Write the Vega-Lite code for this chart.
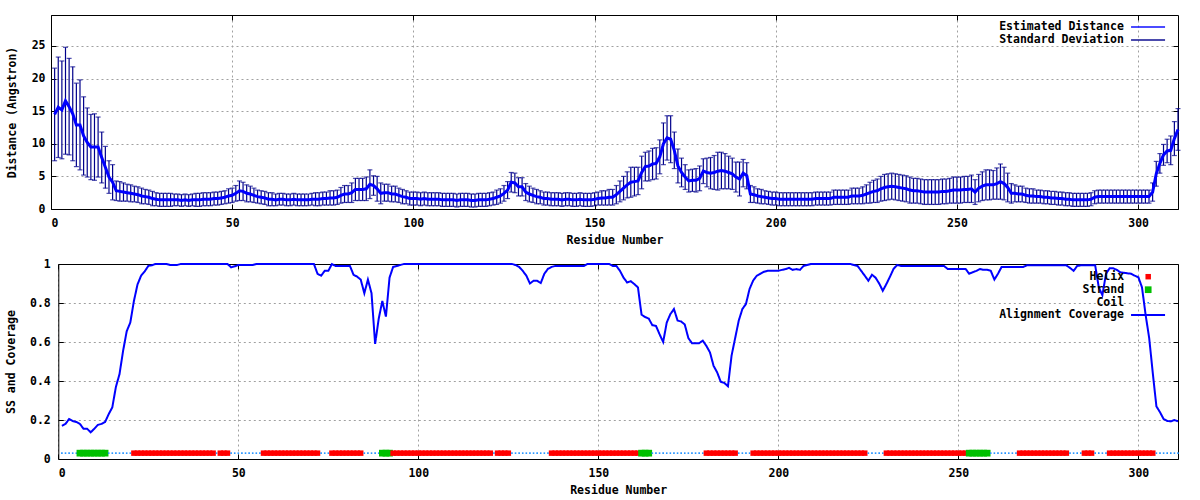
{
"$schema":"https://vega.github.io/schema/vega-lite/v6.json",
"background":"#ffffff",
"padding":{"left":5,"top":14,"right":0,"bottom":0},
"config":{
 "view":{"stroke":null},
 "axis":{"labelFont":"DejaVu Sans Mono","labelFontWeight":"bold","labelFontSize":11.5,"labelColor":"#000000","titleFont":"DejaVu Sans Mono","titleFontWeight":"bold","titleFontSize":11.5,"titleColor":"#000000","domain":true,"domainColor":"#000000","domainWidth":1,"gridColor":"#a0a0a0","gridDash":[2,3],"gridWidth":1,"gridOpacity":1,"tickColor":"#000000","tickWidth":1,"tickSize":-5},
 "legend":{"labelFont":"DejaVu Sans Mono","labelFontWeight":"bold","labelFontSize":11.5,"labelColor":"#000000","labelLimit":400}
},
"datasets":{"res":[
{"r":1,"d":14.5,"sd":7.1,"c":0.17,"s":"Coil"},
{"r":2,"d":15.6,"sd":7.7,"c":0.18,"s":"Coil"},
{"r":3,"d":15.2,"sd":7.5,"c":0.205,"s":"Coil"},
{"r":4,"d":16.6,"sd":8.2,"c":0.195,"s":"Coil"},
{"r":5,"d":15.7,"sd":7.4,"c":0.19,"s":"Coil"},
{"r":6,"d":14.6,"sd":7.2,"c":0.18,"s":"Strand"},
{"r":7,"d":12.9,"sd":6.4,"c":0.155,"s":"Strand"},
{"r":8,"d":12.9,"sd":6.9,"c":0.155,"s":"Strand"},
{"r":9,"d":11.2,"sd":6.0,"c":0.137,"s":"Strand"},
{"r":10,"d":10.2,"sd":5.3,"c":0.155,"s":"Strand"},
{"r":11,"d":9.5,"sd":5.0,"c":0.175,"s":"Strand"},
{"r":12,"d":9.5,"sd":5.1,"c":0.18,"s":"Strand"},
{"r":13,"d":9.5,"sd":4.6,"c":0.19,"s":"Strand"},
{"r":14,"d":7.9,"sd":3.9,"c":0.23,"s":"Coil"},
{"r":15,"d":6.4,"sd":3.2,"c":0.265,"s":"Coil"},
{"r":16,"d":4.9,"sd":2.5,"c":0.37,"s":"Coil"},
{"r":17,"d":4.1,"sd":2.7,"c":0.435,"s":"Coil"},
{"r":18,"d":2.8,"sd":1.5,"c":0.555,"s":"Coil"},
{"r":19,"d":2.7,"sd":1.5,"c":0.655,"s":"Coil"},
{"r":20,"d":2.6,"sd":1.4,"c":0.7,"s":"Coil"},
{"r":21,"d":2.5,"sd":1.3,"c":0.81,"s":"Helix"},
{"r":22,"d":2.4,"sd":1.3,"c":0.895,"s":"Helix"},
{"r":23,"d":2.3,"sd":1.2,"c":0.94,"s":"Helix"},
{"r":24,"d":2.2,"sd":1.2,"c":0.962,"s":"Helix"},
{"r":25,"d":2.0,"sd":1.2,"c":0.99,"s":"Helix"},
{"r":26,"d":1.9,"sd":1.1,"c":0.994,"s":"Helix"},
{"r":27,"d":1.8,"sd":1.1,"c":1.0,"s":"Helix"},
{"r":28,"d":1.6,"sd":1.1,"c":1.0,"s":"Helix"},
{"r":29,"d":1.5,"sd":1.0,"c":1.0,"s":"Helix"},
{"r":30,"d":1.4,"sd":1.0,"c":1.0,"s":"Helix"},
{"r":31,"d":1.4,"sd":1.0,"c":0.995,"s":"Helix"},
{"r":32,"d":1.4,"sd":1.0,"c":0.995,"s":"Helix"},
{"r":33,"d":1.4,"sd":1.0,"c":0.995,"s":"Helix"},
{"r":34,"d":1.4,"sd":0.9,"c":1.0,"s":"Helix"},
{"r":35,"d":1.4,"sd":0.9,"c":1.0,"s":"Helix"},
{"r":36,"d":1.3,"sd":0.9,"c":1.0,"s":"Helix"},
{"r":37,"d":1.4,"sd":0.9,"c":1.0,"s":"Helix"},
{"r":38,"d":1.3,"sd":0.9,"c":1.0,"s":"Helix"},
{"r":39,"d":1.4,"sd":0.9,"c":1.0,"s":"Helix"},
{"r":40,"d":1.4,"sd":1.0,"c":1.0,"s":"Helix"},
{"r":41,"d":1.4,"sd":1.0,"c":1.0,"s":"Helix"},
{"r":42,"d":1.5,"sd":1.0,"c":1.0,"s":"Helix"},
{"r":43,"d":1.5,"sd":1.0,"c":1.0,"s":"Helix"},
{"r":44,"d":1.5,"sd":1.0,"c":1.0,"s":"Coil"},
{"r":45,"d":1.6,"sd":1.0,"c":1.0,"s":"Helix"},
{"r":46,"d":1.6,"sd":1.0,"c":1.0,"s":"Helix"},
{"r":47,"d":1.7,"sd":1.0,"c":1.0,"s":"Helix"},
{"r":48,"d":1.8,"sd":1.0,"c":0.983,"s":"Coil"},
{"r":49,"d":2.0,"sd":1.1,"c":0.988,"s":"Coil"},
{"r":50,"d":2.1,"sd":1.1,"c":0.995,"s":"Coil"},
{"r":51,"d":2.4,"sd":1.2,"c":0.995,"s":"Coil"},
{"r":52,"d":2.8,"sd":1.5,"c":0.995,"s":"Coil"},
{"r":53,"d":2.7,"sd":1.4,"c":0.995,"s":"Coil"},
{"r":54,"d":2.4,"sd":1.3,"c":0.995,"s":"Coil"},
{"r":55,"d":2.3,"sd":1.2,"c":1.0,"s":"Coil"},
{"r":56,"d":2.1,"sd":1.1,"c":1.0,"s":"Coil"},
{"r":57,"d":1.9,"sd":1.0,"c":1.0,"s":"Helix"},
{"r":58,"d":1.8,"sd":1.0,"c":1.0,"s":"Helix"},
{"r":59,"d":1.7,"sd":1.0,"c":1.0,"s":"Helix"},
{"r":60,"d":1.5,"sd":1.0,"c":1.0,"s":"Helix"},
{"r":61,"d":1.5,"sd":1.0,"c":1.0,"s":"Helix"},
{"r":62,"d":1.4,"sd":0.9,"c":1.0,"s":"Helix"},
{"r":63,"d":1.5,"sd":0.9,"c":1.0,"s":"Helix"},
{"r":64,"d":1.5,"sd":0.9,"c":1.0,"s":"Helix"},
{"r":65,"d":1.4,"sd":0.9,"c":1.0,"s":"Helix"},
{"r":66,"d":1.4,"sd":0.9,"c":1.0,"s":"Helix"},
{"r":67,"d":1.5,"sd":0.9,"c":1.0,"s":"Helix"},
{"r":68,"d":1.4,"sd":0.9,"c":1.0,"s":"Helix"},
{"r":69,"d":1.4,"sd":0.9,"c":1.0,"s":"Helix"},
{"r":70,"d":1.4,"sd":0.9,"c":1.0,"s":"Helix"},
{"r":71,"d":1.4,"sd":0.9,"c":1.0,"s":"Helix"},
{"r":72,"d":1.5,"sd":0.9,"c":0.95,"s":"Helix"},
{"r":73,"d":1.5,"sd":1.0,"c":0.94,"s":"Coil"},
{"r":74,"d":1.5,"sd":1.0,"c":0.965,"s":"Coil"},
{"r":75,"d":1.6,"sd":1.0,"c":0.965,"s":"Coil"},
{"r":76,"d":1.6,"sd":1.0,"c":1.0,"s":"Helix"},
{"r":77,"d":1.7,"sd":1.1,"c":0.99,"s":"Helix"},
{"r":78,"d":1.7,"sd":1.1,"c":0.99,"s":"Helix"},
{"r":79,"d":1.8,"sd":1.1,"c":0.99,"s":"Helix"},
{"r":80,"d":2.1,"sd":1.2,"c":0.99,"s":"Helix"},
{"r":81,"d":2.3,"sd":1.3,"c":0.99,"s":"Helix"},
{"r":82,"d":2.3,"sd":1.3,"c":0.945,"s":"Helix"},
{"r":83,"d":2.5,"sd":1.5,"c":0.935,"s":"Helix"},
{"r":84,"d":3.0,"sd":1.7,"c":0.92,"s":"Helix"},
{"r":85,"d":3.0,"sd":1.7,"c":0.85,"s":"Coil"},
{"r":86,"d":3.0,"sd":1.7,"c":0.92,"s":"Coil"},
{"r":87,"d":3.1,"sd":1.8,"c":0.85,"s":"Coil"},
{"r":88,"d":3.8,"sd":2.2,"c":0.59,"s":"Coil"},
{"r":89,"d":3.6,"sd":1.5,"c":0.72,"s":"Coil"},
{"r":90,"d":3.1,"sd":1.9,"c":0.81,"s":"Strand"},
{"r":91,"d":2.4,"sd":1.6,"c":0.73,"s":"Strand"},
{"r":92,"d":2.5,"sd":1.3,"c":0.93,"s":"Strand"},
{"r":93,"d":2.5,"sd":1.3,"c":0.985,"s":"Helix"},
{"r":94,"d":2.3,"sd":1.2,"c":0.99,"s":"Helix"},
{"r":95,"d":2.3,"sd":1.2,"c":0.995,"s":"Helix"},
{"r":96,"d":2.1,"sd":1.1,"c":1.0,"s":"Helix"},
{"r":97,"d":1.9,"sd":1.1,"c":1.0,"s":"Helix"},
{"r":98,"d":1.8,"sd":1.0,"c":1.0,"s":"Helix"},
{"r":99,"d":1.6,"sd":1.0,"c":1.0,"s":"Helix"},
{"r":100,"d":1.6,"sd":1.0,"c":1.0,"s":"Helix"},
{"r":101,"d":1.6,"sd":1.0,"c":1.0,"s":"Helix"},
{"r":102,"d":1.5,"sd":1.0,"c":1.0,"s":"Helix"},
{"r":103,"d":1.6,"sd":1.0,"c":1.0,"s":"Helix"},
{"r":104,"d":1.5,"sd":1.0,"c":1.0,"s":"Helix"},
{"r":105,"d":1.5,"sd":1.0,"c":1.0,"s":"Helix"},
{"r":106,"d":1.5,"sd":1.0,"c":1.0,"s":"Helix"},
{"r":107,"d":1.5,"sd":1.0,"c":1.0,"s":"Helix"},
{"r":108,"d":1.4,"sd":1.0,"c":1.0,"s":"Helix"},
{"r":109,"d":1.4,"sd":1.0,"c":1.0,"s":"Helix"},
{"r":110,"d":1.4,"sd":1.0,"c":1.0,"s":"Helix"},
{"r":111,"d":1.4,"sd":1.0,"c":1.0,"s":"Helix"},
{"r":112,"d":1.3,"sd":1.0,"c":1.0,"s":"Helix"},
{"r":113,"d":1.4,"sd":1.0,"c":1.0,"s":"Helix"},
{"r":114,"d":1.4,"sd":1.0,"c":1.0,"s":"Helix"},
{"r":115,"d":1.4,"sd":1.0,"c":1.0,"s":"Helix"},
{"r":116,"d":1.3,"sd":1.0,"c":1.0,"s":"Helix"},
{"r":117,"d":1.3,"sd":1.0,"c":1.0,"s":"Helix"},
{"r":118,"d":1.4,"sd":1.0,"c":1.0,"s":"Helix"},
{"r":119,"d":1.4,"sd":1.0,"c":1.0,"s":"Helix"},
{"r":120,"d":1.4,"sd":1.0,"c":1.0,"s":"Helix"},
{"r":121,"d":1.5,"sd":1.0,"c":1.0,"s":"Coil"},
{"r":122,"d":1.6,"sd":1.0,"c":1.0,"s":"Helix"},
{"r":123,"d":1.8,"sd":1.1,"c":1.0,"s":"Helix"},
{"r":124,"d":2.0,"sd":1.1,"c":1.0,"s":"Helix"},
{"r":125,"d":2.4,"sd":1.2,"c":1.0,"s":"Helix"},
{"r":126,"d":2.9,"sd":1.3,"c":1.0,"s":"Coil"},
{"r":127,"d":4.1,"sd":1.5,"c":0.995,"s":"Coil"},
{"r":128,"d":4.0,"sd":1.5,"c":0.985,"s":"Coil"},
{"r":129,"d":3.4,"sd":1.4,"c":0.965,"s":"Coil"},
{"r":130,"d":3.4,"sd":1.4,"c":0.94,"s":"Coil"},
{"r":131,"d":2.6,"sd":1.3,"c":0.9,"s":"Coil"},
{"r":132,"d":2.3,"sd":1.2,"c":0.914,"s":"Coil"},
{"r":133,"d":2.1,"sd":1.1,"c":0.914,"s":"Coil"},
{"r":134,"d":1.9,"sd":1.1,"c":0.902,"s":"Coil"},
{"r":135,"d":1.8,"sd":1.0,"c":0.95,"s":"Coil"},
{"r":136,"d":1.6,"sd":1.0,"c":0.975,"s":"Coil"},
{"r":137,"d":1.6,"sd":1.0,"c":0.985,"s":"Helix"},
{"r":138,"d":1.5,"sd":1.0,"c":0.99,"s":"Helix"},
{"r":139,"d":1.5,"sd":1.0,"c":0.99,"s":"Helix"},
{"r":140,"d":1.5,"sd":1.0,"c":0.99,"s":"Helix"},
{"r":141,"d":1.4,"sd":1.0,"c":0.99,"s":"Helix"},
{"r":142,"d":1.5,"sd":1.0,"c":0.99,"s":"Helix"},
{"r":143,"d":1.5,"sd":1.0,"c":0.99,"s":"Helix"},
{"r":144,"d":1.4,"sd":1.0,"c":0.99,"s":"Helix"},
{"r":145,"d":1.4,"sd":1.0,"c":0.99,"s":"Helix"},
{"r":146,"d":1.5,"sd":1.0,"c":0.99,"s":"Helix"},
{"r":147,"d":1.4,"sd":1.0,"c":1.0,"s":"Helix"},
{"r":148,"d":1.4,"sd":1.0,"c":1.0,"s":"Helix"},
{"r":149,"d":1.4,"sd":1.0,"c":1.0,"s":"Helix"},
{"r":150,"d":1.5,"sd":1.0,"c":1.0,"s":"Helix"},
{"r":151,"d":1.6,"sd":1.0,"c":1.0,"s":"Helix"},
{"r":152,"d":1.7,"sd":1.1,"c":1.0,"s":"Helix"},
{"r":153,"d":1.7,"sd":1.1,"c":1.0,"s":"Helix"},
{"r":154,"d":1.8,"sd":1.2,"c":0.99,"s":"Helix"},
{"r":155,"d":1.8,"sd":1.2,"c":0.99,"s":"Helix"},
{"r":156,"d":2.2,"sd":1.4,"c":0.965,"s":"Helix"},
{"r":157,"d":2.7,"sd":1.6,"c":0.93,"s":"Helix"},
{"r":158,"d":3.2,"sd":1.8,"c":0.905,"s":"Helix"},
{"r":159,"d":3.7,"sd":2.0,"c":0.912,"s":"Helix"},
{"r":160,"d":4.1,"sd":2.3,"c":0.897,"s":"Helix"},
{"r":161,"d":4.2,"sd":2.2,"c":0.88,"s":"Helix"},
{"r":162,"d":4.3,"sd":2.1,"c":0.74,"s":"Strand"},
{"r":163,"d":5.6,"sd":2.5,"c":0.728,"s":"Strand"},
{"r":164,"d":6.5,"sd":2.2,"c":0.72,"s":"Strand"},
{"r":165,"d":6.6,"sd":2.3,"c":0.686,"s":"Coil"},
{"r":166,"d":6.9,"sd":2.4,"c":0.683,"s":"Coil"},
{"r":167,"d":7.0,"sd":2.4,"c":0.64,"s":"Coil"},
{"r":168,"d":8.0,"sd":2.6,"c":0.6,"s":"Coil"},
{"r":169,"d":10.0,"sd":3.2,"c":0.7,"s":"Coil"},
{"r":170,"d":10.9,"sd":3.4,"c":0.743,"s":"Coil"},
{"r":171,"d":10.7,"sd":3.6,"c":0.769,"s":"Coil"},
{"r":172,"d":9.0,"sd":2.8,"c":0.71,"s":"Coil"},
{"r":173,"d":6.6,"sd":2.6,"c":0.705,"s":"Coil"},
{"r":174,"d":5.6,"sd":2.2,"c":0.69,"s":"Coil"},
{"r":175,"d":4.9,"sd":1.9,"c":0.62,"s":"Coil"},
{"r":176,"d":4.3,"sd":1.7,"c":0.594,"s":"Coil"},
{"r":177,"d":4.4,"sd":1.7,"c":0.594,"s":"Coil"},
{"r":178,"d":4.4,"sd":1.8,"c":0.594,"s":"Coil"},
{"r":179,"d":4.7,"sd":1.9,"c":0.607,"s":"Coil"},
{"r":180,"d":5.8,"sd":1.9,"c":0.58,"s":"Helix"},
{"r":181,"d":5.6,"sd":2.2,"c":0.547,"s":"Helix"},
{"r":182,"d":5.5,"sd":2.4,"c":0.478,"s":"Helix"},
{"r":183,"d":5.6,"sd":2.6,"c":0.444,"s":"Helix"},
{"r":184,"d":5.8,"sd":2.9,"c":0.396,"s":"Helix"},
{"r":185,"d":5.9,"sd":2.8,"c":0.39,"s":"Helix"},
{"r":186,"d":5.8,"sd":2.7,"c":0.373,"s":"Helix"},
{"r":187,"d":5.6,"sd":2.5,"c":0.53,"s":"Helix"},
{"r":188,"d":5.4,"sd":2.4,"c":0.62,"s":"Helix"},
{"r":189,"d":4.9,"sd":2.3,"c":0.71,"s":"Coil"},
{"r":190,"d":4.6,"sd":2.6,"c":0.769,"s":"Coil"},
{"r":191,"d":5.5,"sd":2.1,"c":0.795,"s":"Coil"},
{"r":192,"d":5.1,"sd":2.0,"c":0.872,"s":"Coil"},
{"r":193,"d":2.3,"sd":1.3,"c":0.915,"s":"Helix"},
{"r":194,"d":2.2,"sd":1.2,"c":0.94,"s":"Helix"},
{"r":195,"d":2.0,"sd":1.1,"c":0.95,"s":"Helix"},
{"r":196,"d":1.9,"sd":1.1,"c":0.96,"s":"Helix"},
{"r":197,"d":1.8,"sd":1.0,"c":0.965,"s":"Helix"},
{"r":198,"d":1.7,"sd":1.0,"c":0.965,"s":"Helix"},
{"r":199,"d":1.6,"sd":1.0,"c":0.965,"s":"Helix"},
{"r":200,"d":1.6,"sd":1.0,"c":0.965,"s":"Helix"},
{"r":201,"d":1.5,"sd":1.0,"c":0.97,"s":"Helix"},
{"r":202,"d":1.5,"sd":1.0,"c":0.974,"s":"Helix"},
{"r":203,"d":1.5,"sd":1.0,"c":0.98,"s":"Helix"},
{"r":204,"d":1.5,"sd":1.0,"c":0.97,"s":"Helix"},
{"r":205,"d":1.5,"sd":1.0,"c":0.974,"s":"Helix"},
{"r":206,"d":1.5,"sd":1.0,"c":0.97,"s":"Helix"},
{"r":207,"d":1.5,"sd":1.0,"c":0.99,"s":"Helix"},
{"r":208,"d":1.5,"sd":1.0,"c":0.995,"s":"Helix"},
{"r":209,"d":1.5,"sd":1.0,"c":1.0,"s":"Helix"},
{"r":210,"d":1.5,"sd":1.0,"c":1.0,"s":"Helix"},
{"r":211,"d":1.6,"sd":1.0,"c":1.0,"s":"Helix"},
{"r":212,"d":1.6,"sd":1.0,"c":1.0,"s":"Helix"},
{"r":213,"d":1.6,"sd":1.0,"c":1.0,"s":"Helix"},
{"r":214,"d":1.6,"sd":1.0,"c":1.0,"s":"Helix"},
{"r":215,"d":1.6,"sd":1.0,"c":1.0,"s":"Helix"},
{"r":216,"d":1.8,"sd":1.1,"c":1.0,"s":"Helix"},
{"r":217,"d":1.8,"sd":1.1,"c":1.0,"s":"Helix"},
{"r":218,"d":1.8,"sd":1.1,"c":1.0,"s":"Helix"},
{"r":219,"d":1.8,"sd":1.1,"c":1.0,"s":"Helix"},
{"r":220,"d":1.8,"sd":1.1,"c":1.0,"s":"Helix"},
{"r":221,"d":2.0,"sd":1.2,"c":0.995,"s":"Helix"},
{"r":222,"d":2.0,"sd":1.2,"c":0.99,"s":"Helix"},
{"r":223,"d":2.0,"sd":1.2,"c":0.965,"s":"Helix"},
{"r":224,"d":2.1,"sd":1.3,"c":0.94,"s":"Helix"},
{"r":225,"d":2.3,"sd":1.4,"c":0.914,"s":"Coil"},
{"r":226,"d":2.5,"sd":1.6,"c":0.945,"s":"Coil"},
{"r":227,"d":2.7,"sd":1.7,"c":0.93,"s":"Coil"},
{"r":228,"d":2.8,"sd":1.8,"c":0.9,"s":"Coil"},
{"r":229,"d":3.1,"sd":1.9,"c":0.863,"s":"Coil"},
{"r":230,"d":3.3,"sd":2.0,"c":0.897,"s":"Helix"},
{"r":231,"d":3.4,"sd":2.0,"c":0.935,"s":"Helix"},
{"r":232,"d":3.5,"sd":2.0,"c":0.975,"s":"Helix"},
{"r":233,"d":3.4,"sd":2.0,"c":0.995,"s":"Helix"},
{"r":234,"d":3.3,"sd":2.0,"c":0.99,"s":"Helix"},
{"r":235,"d":3.2,"sd":2.0,"c":0.99,"s":"Helix"},
{"r":236,"d":3.1,"sd":2.0,"c":0.99,"s":"Helix"},
{"r":237,"d":2.9,"sd":2.0,"c":0.99,"s":"Helix"},
{"r":238,"d":2.8,"sd":1.9,"c":0.99,"s":"Helix"},
{"r":239,"d":2.8,"sd":1.9,"c":0.99,"s":"Helix"},
{"r":240,"d":2.7,"sd":1.9,"c":0.99,"s":"Helix"},
{"r":241,"d":2.6,"sd":1.9,"c":0.99,"s":"Helix"},
{"r":242,"d":2.6,"sd":1.9,"c":0.99,"s":"Helix"},
{"r":243,"d":2.6,"sd":1.9,"c":0.99,"s":"Helix"},
{"r":244,"d":2.6,"sd":1.9,"c":0.99,"s":"Helix"},
{"r":245,"d":2.6,"sd":1.9,"c":0.99,"s":"Helix"},
{"r":246,"d":2.7,"sd":1.9,"c":0.99,"s":"Helix"},
{"r":247,"d":2.7,"sd":1.9,"c":0.975,"s":"Helix"},
{"r":248,"d":2.8,"sd":1.9,"c":0.975,"s":"Helix"},
{"r":249,"d":2.9,"sd":2.0,"c":0.975,"s":"Helix"},
{"r":250,"d":2.9,"sd":2.0,"c":0.975,"s":"Helix"},
{"r":251,"d":2.9,"sd":2.0,"c":0.975,"s":"Helix"},
{"r":252,"d":3.0,"sd":2.0,"c":0.975,"s":"Helix"},
{"r":253,"d":3.0,"sd":2.0,"c":0.95,"s":"Strand"},
{"r":254,"d":3.1,"sd":2.1,"c":0.958,"s":"Strand"},
{"r":255,"d":2.6,"sd":1.9,"c":0.965,"s":"Strand"},
{"r":256,"d":3.2,"sd":2.1,"c":0.974,"s":"Strand"},
{"r":257,"d":3.5,"sd":2.2,"c":0.97,"s":"Strand"},
{"r":258,"d":3.7,"sd":2.3,"c":0.97,"s":"Strand"},
{"r":259,"d":3.7,"sd":2.3,"c":0.965,"s":"Coil"},
{"r":260,"d":3.7,"sd":2.2,"c":0.92,"s":"Coil"},
{"r":261,"d":3.9,"sd":2.4,"c":0.95,"s":"Coil"},
{"r":262,"d":4.2,"sd":2.7,"c":0.985,"s":"Coil"},
{"r":263,"d":3.9,"sd":2.5,"c":0.985,"s":"Coil"},
{"r":264,"d":3.3,"sd":2.2,"c":0.985,"s":"Coil"},
{"r":265,"d":2.4,"sd":1.5,"c":0.985,"s":"Coil"},
{"r":266,"d":2.4,"sd":1.3,"c":0.985,"s":"Coil"},
{"r":267,"d":2.3,"sd":1.2,"c":0.985,"s":"Helix"},
{"r":268,"d":2.3,"sd":1.2,"c":0.985,"s":"Helix"},
{"r":269,"d":2.1,"sd":1.1,"c":0.993,"s":"Helix"},
{"r":270,"d":2.0,"sd":1.1,"c":0.993,"s":"Helix"},
{"r":271,"d":2.0,"sd":1.1,"c":0.993,"s":"Helix"},
{"r":272,"d":1.9,"sd":1.0,"c":0.993,"s":"Helix"},
{"r":273,"d":1.9,"sd":1.0,"c":0.993,"s":"Helix"},
{"r":274,"d":1.8,"sd":1.0,"c":0.993,"s":"Helix"},
{"r":275,"d":1.8,"sd":1.0,"c":0.993,"s":"Helix"},
{"r":276,"d":1.7,"sd":1.0,"c":0.993,"s":"Helix"},
{"r":277,"d":1.7,"sd":1.0,"c":0.993,"s":"Helix"},
{"r":278,"d":1.6,"sd":1.0,"c":0.993,"s":"Helix"},
{"r":279,"d":1.6,"sd":1.0,"c":0.993,"s":"Helix"},
{"r":280,"d":1.5,"sd":1.0,"c":0.993,"s":"Helix"},
{"r":281,"d":1.5,"sd":1.0,"c":0.98,"s":"Coil"},
{"r":282,"d":1.4,"sd":1.0,"c":0.965,"s":"Coil"},
{"r":283,"d":1.4,"sd":1.0,"c":0.99,"s":"Coil"},
{"r":284,"d":1.4,"sd":1.0,"c":0.993,"s":"Coil"},
{"r":285,"d":1.4,"sd":1.0,"c":0.993,"s":"Helix"},
{"r":286,"d":1.4,"sd":1.0,"c":0.993,"s":"Helix"},
{"r":287,"d":1.5,"sd":1.0,"c":0.993,"s":"Helix"},
{"r":288,"d":1.8,"sd":1.0,"c":0.993,"s":"Coil"},
{"r":289,"d":1.9,"sd":1.0,"c":0.88,"s":"Coil"},
{"r":290,"d":1.9,"sd":1.0,"c":0.84,"s":"Coil"},
{"r":291,"d":1.9,"sd":1.0,"c":0.95,"s":"Coil"},
{"r":292,"d":1.9,"sd":1.0,"c":0.978,"s":"Helix"},
{"r":293,"d":1.9,"sd":1.0,"c":0.978,"s":"Helix"},
{"r":294,"d":1.9,"sd":1.0,"c":0.97,"s":"Helix"},
{"r":295,"d":1.9,"sd":1.0,"c":0.957,"s":"Helix"},
{"r":296,"d":1.9,"sd":1.0,"c":0.955,"s":"Helix"},
{"r":297,"d":1.9,"sd":1.0,"c":0.952,"s":"Helix"},
{"r":298,"d":1.9,"sd":1.0,"c":0.95,"s":"Helix"},
{"r":299,"d":1.9,"sd":1.0,"c":0.94,"s":"Helix"},
{"r":300,"d":1.9,"sd":1.0,"c":0.932,"s":"Helix"},
{"r":301,"d":1.9,"sd":1.0,"c":0.88,"s":"Helix"},
{"r":302,"d":1.9,"sd":1.0,"c":0.74,"s":"Helix"},
{"r":303,"d":1.9,"sd":1.0,"c":0.62,"s":"Helix"},
{"r":304,"d":2.6,"sd":1.4,"c":0.44,"s":"Helix"},
{"r":305,"d":5.4,"sd":1.9,"c":0.27,"s":"Coil"},
{"r":306,"d":7.0,"sd":1.5,"c":0.24,"s":"Coil"},
{"r":307,"d":8.3,"sd":1.6,"c":0.205,"s":"Coil"},
{"r":308,"d":8.9,"sd":1.8,"c":0.195,"s":"Coil"},
{"r":309,"d":9.0,"sd":2.2,"c":0.193,"s":"Coil"},
{"r":310,"d":10.8,"sd":2.6,"c":0.2,"s":"Coil"},
{"r":311,"d":12.2,"sd":3.2,"c":0.193,"s":"Coil"}
]},
"concat":[
 {
  "width":1127,"height":194,
  "data":{"name":"res"},
  "layer":[
   {"mark":{"type":"errorbar","thickness":1.2,"ticks":{"size":5,"thickness":1.2}},
    "encoding":{
     "x":{"field":"r","type":"quantitative","scale":{"domain":[0,311],"nice":false,"zero":false},
          "axis":{"orient":"bottom","values":[0,50,100,150,200,250,300],"title":"Residue Number","grid":true,"labelPadding":13,"titlePadding":6,"labelFlush":true}},
     "y":{"field":"d","type":"quantitative","scale":{"domain":[0,29.75],"nice":false},
          "axis":{"orient":"left","values":[0,5,10,15,20,25],"title":"Distance (Angstron)","grid":true,"labelPadding":11,"titlePadding":14,"labelFlush":false}},
     "yError":{"field":"sd"},
     "color":{"datum":"Standard Deviation","scale":{"domain":["Estimated Distance","Standard Deviation"],"range":["#0000ff","#00008b"]},
       "legend":{"title":null,"orient":"none","legendX":947.7,"legendY":4.95,"direction":"vertical","symbolType":"M-2.96,0H2.96","symbolSize":132,"symbolStrokeWidth":2,"rowPadding":-0.3,"labelAlign":"right","labelOffset":-31.25,"symbolOffset":142.35,"padding":0}}
    }},
   {"mark":{"type":"line","strokeWidth":3},
    "encoding":{
     "x":{"field":"r","type":"quantitative","axis":{"orient":"top","values":[0,50,100,150,200,250,300],"labels":false,"title":null,"grid":false}},
     "y":{"field":"d","type":"quantitative","axis":{"orient":"right","values":[0,5,10,15,20,25],"labels":false,"title":null,"grid":false}},
     "color":{"datum":"Estimated Distance"}
    }}
  ],
  "resolve":{"axis":{"x":"independent","y":"independent"}}
 },
 {
  "width":1127,"height":195,
  "data":{"name":"res"},
  "layer":[
   {"mark":{"type":"point","shape":"square","filled":true,"opacity":1,"strokeWidth":0},
    "encoding":{
     "x":{"field":"r","type":"quantitative","scale":{"domain":[0,311],"nice":false,"zero":false,"range":[7.3,1127]},
          "axis":{"orient":"bottom","values":[0,50,100,150,200,250,300],"title":"Residue Number","grid":true,"labelPadding":13,"titlePadding":6,"labelFlush":true}},
     "y":{"datum":0.03,"type":"quantitative","scale":{"domain":[0,1],"nice":false},
          "axis":{"orient":"left","offset":-7.3,"values":[0,0.2,0.4,0.6,0.8,1],"format":"~g","title":"SS and Coverage","grid":true,"labelPadding":13,"titlePadding":13,"labelFlush":false}},
     "color":{"field":"s","type":"nominal","scale":{"domain":["Helix","Strand","Coil"],"range":["#ff0000","#00c000","#1e90ff"]},
       "legend":{"title":null,"orient":"none","legendX":1030.8,"legendY":6.95,"direction":"vertical","symbolType":"square","rowPadding":0,"labelAlign":"right","labelOffset":-29.85,"symbolOffset":60.65,"padding":0}},
     "size":{"field":"s","type":"nominal","scale":{"type":"ordinal","domain":["Helix","Strand","Coil"],"range":[30,45,2.5]}}
    }},
   {"mark":{"type":"line","strokeWidth":2,"color":"#0000ff"},
    "encoding":{
     "x":{"field":"r","type":"quantitative","axis":{"orient":"top","values":[0,50,100,150,200,250,300],"labels":false,"title":null,"grid":false}},
     "y":{"field":"c","type":"quantitative","axis":{"orient":"right","values":[0,0.2,0.4,0.6,0.8,1],"labels":false,"title":null,"grid":false}},
     "strokeDash":{"datum":"Alignment Coverage","scale":{"domain":["Alignment Coverage"],"range":[[1,0]]},
       "legend":{"title":null,"orient":"none","legendX":947.7,"legendY":43.95,"symbolType":"M-2.96,0H2.96","symbolSize":132,"symbolStrokeWidth":2,"symbolStrokeColor":"#0000ff","labelAlign":"right","labelOffset":-31.25,"symbolOffset":142.35,"padding":0}}
    }}
  ],
  "resolve":{"axis":{"x":"independent","y":"independent"}}
 }
],
"columns":1,
"align":"none",
"spacing":12,
"resolve":{"scale":{"color":"independent","size":"independent","strokeDash":"independent"},"legend":{"color":"independent","size":"independent","strokeDash":"independent"}}
}
